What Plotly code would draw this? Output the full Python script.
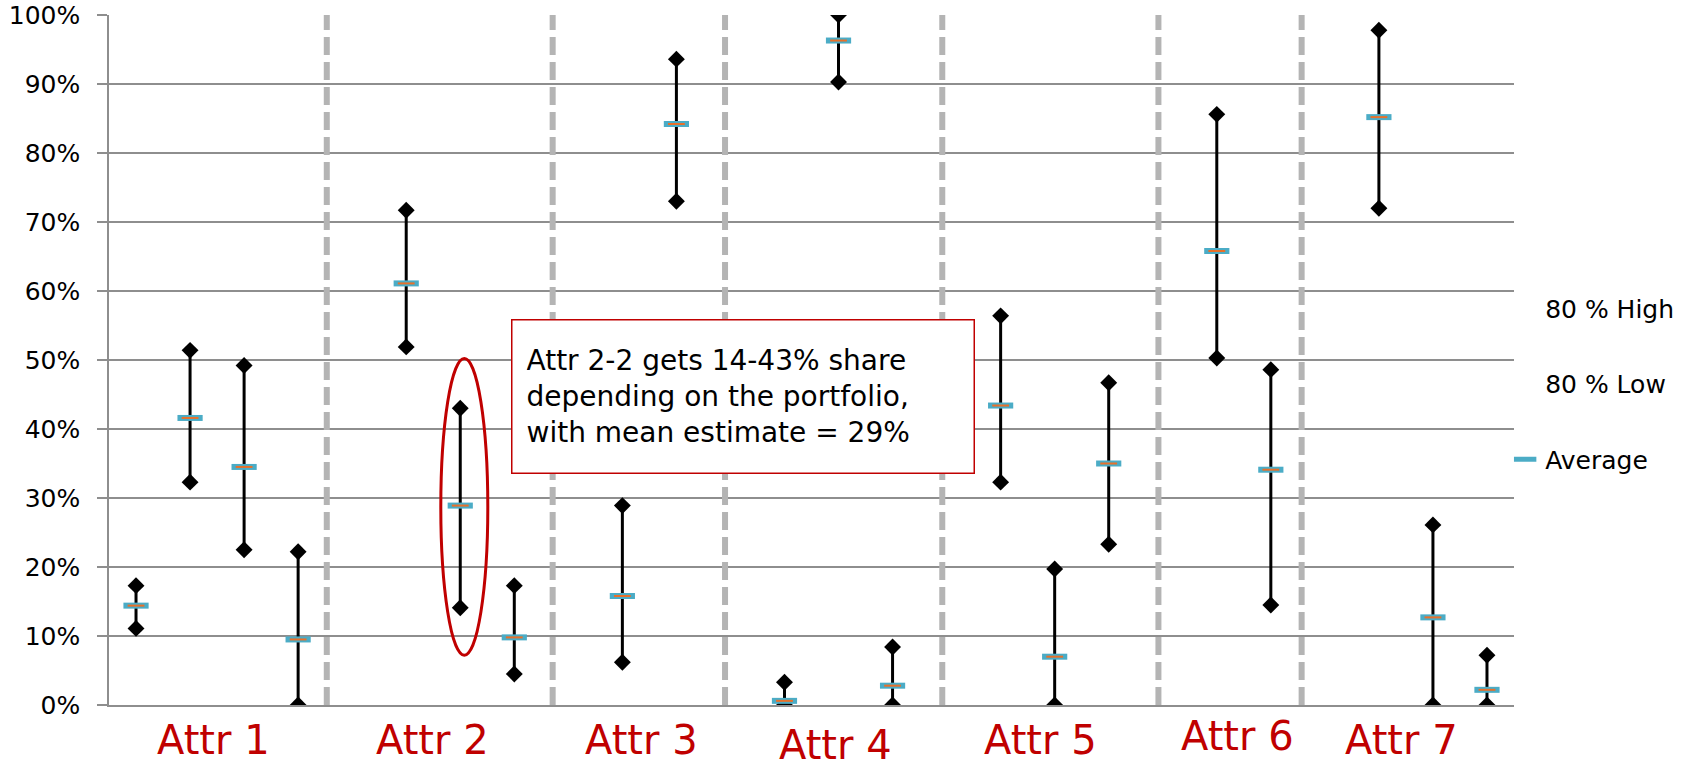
import plotly.graph_objects as go

# ---- data -------------------------------------------------------------
# x slots: items of each attribute, with empty spacer slots between groups
slots = ["1-1", "1-2", "1-3", "1-4", "s1",
         "2-1", "2-2", "2-3", "s2",
         "3-1", "3-2", "s3",
         "4-1", "4-2", "4-3", "s4",
         "5-1", "5-2", "5-3", "s5",
         "6-1", "6-2", "s6",
         "7-1", "7-2", "7-3"]
items = ["1-1", "1-2", "1-3", "1-4",
         "2-1", "2-2", "2-3",
         "3-1", "3-2",
         "4-1", "4-2", "4-3",
         "5-1", "5-2", "5-3",
         "6-1", "6-2",
         "7-1", "7-2", "7-3"]
high = [0.173, 0.514, 0.492, 0.222,
        0.717, 0.430, 0.173,
        0.289, 0.936,
        0.033, 1.000, 0.084,
        0.564, 0.197, 0.467,
        0.856, 0.486,
        0.978, 0.261, 0.072]
low = [0.111, 0.323, 0.225, 0.000,
       0.519, 0.141, 0.045,
       0.062, 0.730,
       0.000, 0.903, 0.000,
       0.323, 0.000, 0.233,
       0.503, 0.145,
       0.720, 0.000, 0.000]
average = [0.144, 0.416, 0.345, 0.095,
           0.611, 0.289, 0.098,
           0.158, 0.842,
           0.006, 0.963, 0.028,
           0.434, 0.070, 0.350,
           0.658, 0.341,
           0.852, 0.127, 0.022]
group_labels = ["Attr 1", "Attr 2", "Attr 3", "Attr 4", "Attr 5", "Attr 6", "Attr 7"]
y_ticks = [0, 0.1, 0.2, 0.3, 0.4, 0.5, 0.6, 0.7, 0.8, 0.9, 1.0]
callout_text = ("Attr 2-2 gets 14-43% share<br>depending on the portfolio,"
                "<br>with mean estimate = 29%")

# ---- layout helpers (positions on the slot index scale) ---------------
divider_pos = [3.53, 7.71, 10.90, 14.92, 18.92, 21.57]
label_pos = [1.43, 5.48, 9.36, 12.95, 16.73, 20.38, 23.41]
label_y = [-0.051, -0.051, -0.051, -0.058, -0.051, -0.045, -0.051]

FONT = "DejaVu Sans"
GRID = "#8E8E8E"
RED = "#C00000"

fig = go.Figure()

# high-low connecting lines
lx, ly = [], []
for it, h, l in zip(items, high, low):
    lx += [it, it, None]
    ly += [l, h, None]
fig.add_trace(go.Scatter(x=lx, y=ly, mode="lines", line=dict(color="black", width=3),
                         showlegend=False, hoverinfo="skip"))

# diamonds
fig.add_trace(go.Scatter(x=items, y=high, mode="markers", name="80 % High",
                         marker=dict(symbol="diamond", size=13, color="black"),
                         showlegend=False))
fig.add_trace(go.Scatter(x=items, y=low, mode="markers", name="80 % Low",
                         marker=dict(symbol="diamond", size=13, color="black"),
                         showlegend=False))

# legend entries without a visible symbol
for nm in ["80 % High", "80 % Low"]:
    fig.add_trace(go.Scatter(x=[None], y=[None], mode="markers", name=nm,
                             marker=dict(color="rgba(0,0,0,0)", size=1),
                             legendgroup=nm, showlegend=True))

# average markers (cyan bar with orange core)
fig.add_trace(go.Scatter(x=items, y=average, mode="markers", name="Average",
                         legendgroup="avg",
                         marker=dict(symbol="line-ew", size=18,
                                     line=dict(color="#4BACC6", width=6))))
fig.add_trace(go.Scatter(x=items, y=average, mode="markers", name="Average",
                         legendgroup="avg", showlegend=False,
                         marker=dict(symbol="line-ew", size=12,
                                     line=dict(color="#E8702A", width=2))))

# dashed dividers
for xp in divider_pos:
    fig.add_shape(type="line", xref="x", yref="y", x0=xp, x1=xp, y0=0, y1=1,
                  line=dict(color="#B4B4B4", width=6, dash="18px,7px"), layer="between")

# red ellipse around Attr 2-2
fig.add_shape(type="circle", xref="x", yref="y", x0=5.64, x1=6.51, y0=0.072, y1=0.502,
              line=dict(color=RED, width=3), layer="above")

# group labels
for txt, xp, yp in zip(group_labels, label_pos, label_y):
    fig.add_annotation(x=xp, y=yp, xref="x", yref="paper", text=txt, showarrow=False,
                       font=dict(family=FONT, size=40, color=RED),
                       xanchor="center", yanchor="middle")

# callout box
fig.add_annotation(x=11.24, y=0.447, xref="x", yref="y", text=callout_text,
                   showarrow=False, align="left", width=433, height=124,
                   bgcolor="white", bordercolor=RED, borderwidth=1.5, borderpad=14,
                   font=dict(family=FONT, size=28, color="black"))

fig.update_layout(
    width=1690, height=767,
    margin=dict(l=109, r=175, t=15, b=62),
    paper_bgcolor="white", plot_bgcolor="white",
    font=dict(family=FONT, size=25, color="black"),
    xaxis=dict(type="category", categoryorder="array", categoryarray=slots,
               range=[-0.5, 25.5], showgrid=False, showticklabels=False,
               ticks="", showline=True, linecolor=GRID, linewidth=1.5, zeroline=False,
               automargin=False),
    yaxis=dict(range=[0, 1], tickvals=y_ticks, tickformat=".0%",
               showgrid=True, gridcolor=GRID, gridwidth=1.5,
               showline=True, linecolor=GRID, linewidth=1.5,
               ticks="outside", ticklen=10, tickcolor=GRID, tickwidth=1.5,
               ticklabelstandoff=12, zeroline=False, automargin=False,
               ticklabeloverflow="allow",
               tickfont=dict(family=FONT, size=25, color="black")),
    legend=dict(x=0.993, xanchor="left", y=0.608, yanchor="top",
                bgcolor="rgba(0,0,0,0)", traceorder="grouped", tracegroupgap=40,
                font=dict(family=FONT, size=25, color="black"), itemclick=False),
    showlegend=True,
)

fig.write_html("out.html", config={"displayModeBar": False},
               post_script="document.body.style.margin='0';"
               "document.body.style.overflow='hidden';")
